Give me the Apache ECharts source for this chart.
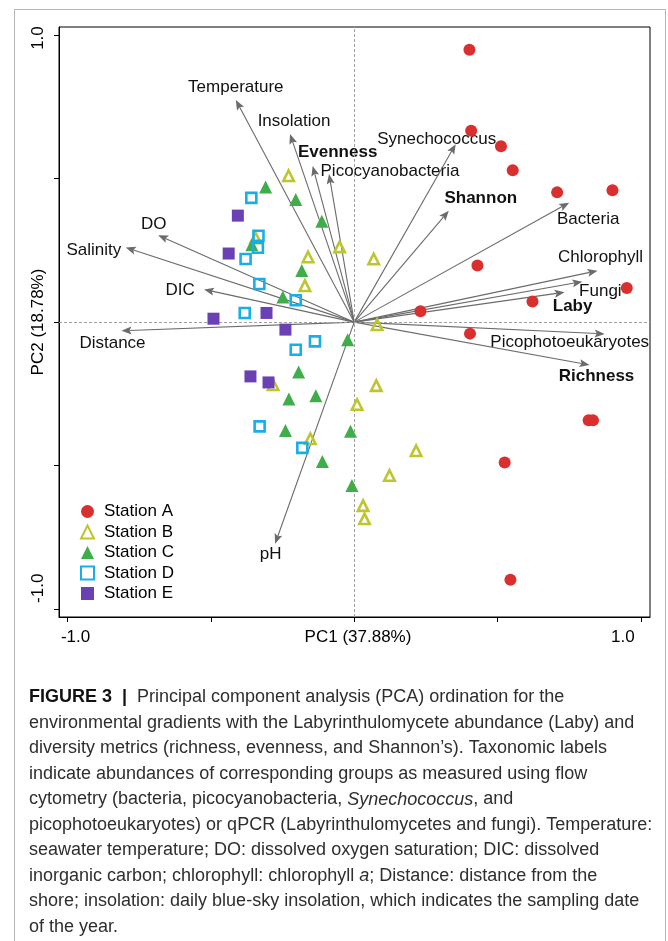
<!DOCTYPE html>
<html>
<head>
<meta charset="utf-8">
<script src="https://cdn.jsdelivr.net/npm/echarts@6/dist/echarts.min.js"></script>
<style>html,body{margin:0;padding:0;background:#fff}#c{width:668px;height:941px}</style>
</head>
<body>
<div id="c"></div>
<script>
// ---------- data ----------
const stationNames = ['Station A', 'Station B', 'Station C', 'Station D', 'Station E'];
const stationA = [[0.402,0.949],[0.408,0.667],[0.512,0.613],[0.553,0.529],[0.708,0.452],[0.901,0.459],[0.430,0.197],[0.231,0.038],[0.622,0.072],[0.951,0.119],[0.404,-0.040],[0.818,-0.342],[0.833,-0.342],[0.525,-0.489],[0.545,-0.897]];
const stationB = [[-0.229,0.510],[-0.344,0.293],[-0.161,0.227],[-0.172,0.127],[-0.051,0.262],[0.068,0.220],[0.080,-0.009],[-0.283,-0.218],[-0.153,-0.406],[0.077,-0.221],[0.010,-0.287],[0.216,-0.448],[0.123,-0.534],[0.031,-0.639],[0.036,-0.685]];
const stationC = [[-0.309,0.471],[-0.204,0.427],[-0.113,0.351],[-0.357,0.270],[-0.183,0.180],[-0.249,0.088],[-0.023,-0.061],[-0.013,-0.380],[-0.008,-0.569],[-0.194,-0.174],[-0.228,-0.268],[-0.134,-0.256],[-0.240,-0.377],[-0.111,-0.485]];
const stationD = [[-0.359,0.433],[-0.334,0.301],[-0.336,0.259],[-0.379,0.220],[-0.331,0.133],[-0.204,0.076],[-0.382,0.032],[-0.204,-0.096],[-0.137,-0.067],[-0.330,-0.363],[-0.181,-0.438]];
const stationE = [[-0.406,0.371],[-0.438,0.239],[-0.306,0.032],[-0.491,0.012],[-0.240,-0.026],[-0.362,-0.189],[-0.299,-0.210]];

const vectorNames = ['Temperature','Insolation','Evenness','Picocyanobacteria','DO','Salinity','DIC','Distance','pH','Synechococcus','Shannon','Bacteria','Chlorophyll','Fungi','Laby','Picophotoeukaryotes','Richness'];
const vectorPC1 = [-0.413,-0.224,-0.145,-0.088,-0.684,-0.797,-0.524,-0.812,-0.276,0.354,0.330,0.750,0.849,0.796,0.734,0.874,0.821];
const vectorPC2 = [0.774,0.655,0.544,0.516,0.303,0.260,0.114,-0.030,-0.772,0.620,0.388,0.416,0.179,0.141,0.104,-0.041,-0.149];
const boldVectors = ['Evenness','Shannon','Laby','Richness'];

const tickValues = [-1, -0.5, 0, 0.5, 1];
const labelValues = [-1, 1];
const xTickLabels = ['-1.0', '1.0'];
const yTickLabels = ['-1.0', '1.0'];
const xAxisTitle = 'PC1 (37.88%)';
const yAxisTitle = 'PC2 (18.78%)';

const captionLines = [
  '{b|FIGURE 3  |  }Principal component analysis (PCA) ordination for the',
  'environmental gradients with the Labyrinthulomycete abundance (Laby) and',
  'diversity metrics (richness, evenness, and Shannon\u2019s). Taxonomic labels',
  'indicate abundances of corresponding groups as measured using flow',
  'cytometry (bacteria, picocyanobacteria, {i|Synechococcus}, and',
  'picophotoeukaryotes) or qPCR (Labyrinthulomycetes and fungi). Temperature:',
  'seawater temperature; DO: dissolved oxygen saturation; DIC: dissolved',
  'inorganic carbon; chlorophyll: chlorophyll {i|a}; Distance: distance from the',
  'shore; insolation: daily blue-sky insolation, which indicates the sampling date',
  'of the year.'
];

// ---------- layout / style ----------
const FONT = "'Liberation Sans', Arial, Helvetica, sans-serif";
const vectorLabelOffsets = [[0,-13],[4,-13],[25,-13.5],[61,-3],[-4.5,-11],[-32,3],[-24,1],[-9,13],[-4.5,11],[-19,-5],[32,-12],[19,17],[3,-13],[18,10],[8,14],[-35,8],[7,11]];
const arrowColor = '#6b6b6b';
const colors = ['#d9302f', '#bec52d', '#3fae4a', '#17aee9', '#6a40b5'];

const chart = echarts.init(document.getElementById('c'), null, {renderer: 'canvas', width: 668, height: 941});

function scatterSeries(name, data, symbol, size, color, open) {
  return {
    name, type: 'scatter', data, symbol, symbolSize: size, z: 5,
    silent: true,
    itemStyle: open
      ? {color: 'rgba(255,255,255,0)', borderColor: color, borderWidth: 2.6, opacity: 1}
      : {color: color, opacity: 1, borderWidth: 0},
    emphasis: {disabled: true}
  };
}

const option = {
  animation: false,
  backgroundColor: '#fff',
  grid: {left: 59, top: 27, right: 18, bottom: 324, outerBoundsMode: 'none', containLabel: false,
         show: true, borderColor: '#000', borderWidth: 1, backgroundColor: 'transparent'},
  xAxis: {
    type: 'value', min: -1.03, max: 1.032,
    axisLine: {show: true, onZero: false, lineStyle: {color: '#000', width: 1}},
    splitLine: {show: false},
    axisTick: {show: true, customValues: tickValues, length: 5, lineStyle: {color: '#000'}},
    axisLabel: {
      customValues: labelValues, margin: 12, color: '#000', fontSize: 17, fontFamily: FONT,
      formatter: v => (v < 0 ? '{l|' + xTickLabels[0] + '}' : '{r|' + xTickLabels[1] + '}'),
      rich: {l: {padding: [0,0,0,16], fontSize: 17, fontFamily: FONT, color: '#000'}, r: {padding: [0,36,0,0], fontSize: 17, fontFamily: FONT, color: '#000'}}
    },
    name: xAxisTitle, nameLocation: 'middle', nameGap: 12, nameMoveOverlap: false,
    nameTextStyle: {fontSize: 17, color: '#000', fontFamily: FONT, padding: [0,0,0,7]}
  },
  yAxis: {
    type: 'value', min: -1.027, max: 1.028,
    axisLine: {show: true, onZero: false, lineStyle: {color: '#000', width: 1}},
    splitLine: {show: false},
    axisTick: {show: true, customValues: tickValues, length: 5, lineStyle: {color: '#000'}},
    axisLabel: {
      customValues: labelValues, margin: 12, rotate: 90, color: '#000', fontSize: 17, fontFamily: FONT,
      formatter: v => (v < 0 ? '{l|' + yTickLabels[0] + '}' : '{r|' + yTickLabels[1] + '}'),
      rich: {l: {padding: [0,0,0,42], fontSize: 17, fontFamily: FONT, color: '#000'}, r: {padding: [0,6,0,0], fontSize: 17, fontFamily: FONT, color: '#000'}}
    },
    name: yAxisTitle, nameLocation: 'middle', nameRotate: 90, nameGap: 12, nameMoveOverlap: false,
    nameTextStyle: {fontSize: 17, color: '#000', fontFamily: FONT}
  },
  legend: {
    orient: 'vertical', left: 75, top: 498, itemWidth: 13, itemHeight: 13, itemGap: 3.5,
    selectedMode: false,
    textStyle: {fontSize: 17, color: '#000', fontFamily: FONT, padding: [0,0,0,5]},
    data: stationNames
  },
  graphic: [
    {type: 'rect', z: -10, silent: true, shape: {x: 14.5, y: 9.5, width: 651, height: 1000}, style: {fill: 'none', stroke: '#b5b5b5', lineWidth: 1}}
  ].concat(captionLines.map((t, i) => ({
    type: 'text', silent: true, x: 29, y: 697.5 + i * 25.5,
    style: {
      text: t, fontSize: 18, fontFamily: FONT, fill: '#2e2e2e', verticalAlign: 'middle', align: 'left',
      rich: {
        b: {fontWeight: 'bold', fontSize: 18, fontFamily: FONT, fill: '#111', color: '#111'},
        i: {fontStyle: 'italic', fontSize: 18, fontFamily: FONT, fill: '#2e2e2e', color: '#2e2e2e'}
      }
    }
  }))),
  series: [
    {
      type: 'custom', name: 'vectors', z: 3, silent: true,
      data: vectorPC1.map((x, i) => [x, vectorPC2[i]]),
      renderItem: function (params, api) {
        const i = params.dataIndex;
        const s = api.coord([0, 0]);
        const e = api.coord([api.value(0), api.value(1)]);
        const dx = e[0] - s[0], dy = e[1] - s[1];
        const L = Math.hypot(dx, dy), ux = dx / L, uy = dy / L;
        const hl = 10, hw = 4;
        const bx = e[0] - ux * hl, by = e[1] - uy * hl;
        const px = -uy, py = ux;
        const off = vectorLabelOffsets[i];
        const name = vectorNames[i];
        return {
          type: 'group',
          children: [
            {type: 'line', shape: {x1: s[0], y1: s[1], x2: bx + ux * 2, y2: by + uy * 2}, style: {stroke: arrowColor, lineWidth: 1.1}},
            {type: 'polygon', shape: {points: [[e[0], e[1]], [bx + px * hw, by + py * hw], [bx + ux * 2, by + uy * 2], [bx - px * hw, by - py * hw]]}, style: {fill: arrowColor}},
            {type: 'text', x: e[0] + off[0], y: e[1] + off[1], style: {
              text: name, fontSize: 17, fontFamily: FONT, fill: '#111',
              fontWeight: boldVectors.indexOf(name) >= 0 ? 'bold' : 'normal',
              align: 'center', verticalAlign: 'middle'}}
          ]
        };
      },
      markLine: {
        silent: true, symbol: 'none', label: {show: false},
        lineStyle: {type: [3, 2], color: '#a0a0a0', width: 1},
        data: [{xAxis: 0}, {yAxis: 0}]
      }
    },
    scatterSeries(stationNames[0], stationA, 'circle', 12, colors[0], false),
    scatterSeries(stationNames[1], stationB, 'triangle', 10.5, colors[1], true),
    scatterSeries(stationNames[2], stationC, 'triangle', 13, colors[2], false),
    scatterSeries(stationNames[3], stationD, 'rect', 10, colors[3], true),
    scatterSeries(stationNames[4], stationE, 'rect', 12, colors[4], false)
  ]
};
chart.setOption(option);
</script>
</body>
</html>
